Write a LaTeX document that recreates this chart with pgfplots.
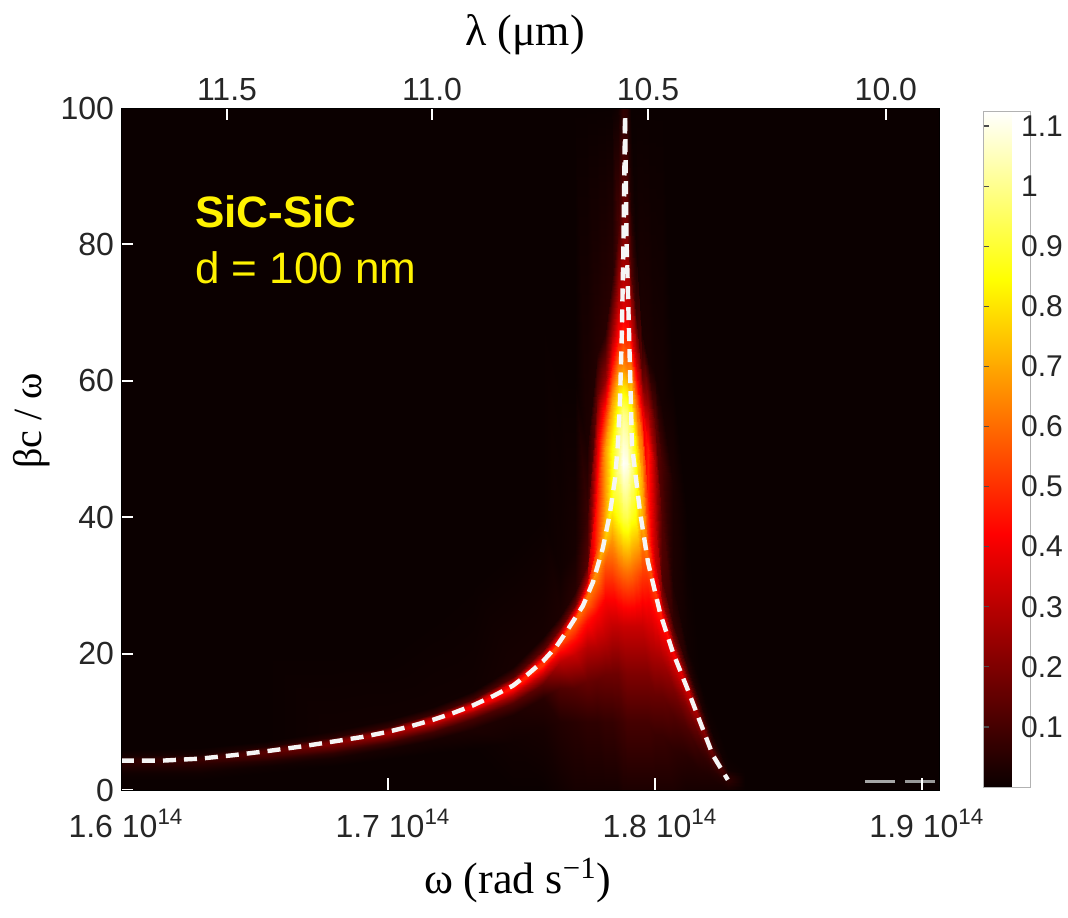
\documentclass[border=0pt]{standalone}
\usepackage{fontspec}
\setmainfont{Liberation Sans}
\newfontfamily\timesfont{Liberation Serif}
\usepackage{pgfplots}
\pgfplotsset{compat=1.18}
\begin{document}
\begin{tikzpicture}
\useasboundingbox (-60.5pt,-63.5pt) rectangle (473.5pt,395pt);
\begin{axis}[
  width=409pt, height=341pt, scale only axis,
  xmin=1.6, xmax=1.9064, ymin=0, ymax=100,
  axis on top,
  axis line style={black},
  colormap={hotm}{rgb255(0cm)=(11,0,0) rgb255(3cm)=(255,0,0) rgb255(6cm)=(255,255,0) rgb255(8cm)=(255,255,255)},
  point meta min=0, point meta max=1.125,
  colorbar,
  colorbar style={
    at={(parent axis.north east)}, anchor=north west, xshift=13.5pt, yshift=-1.5pt,
    width=23.5pt, height=338pt,
    ytick={0.1,0.2,0.3,0.4,0.5,0.6,0.7,0.8,0.9,1,1.1},
    yticklabels={0.1,0.2,0.3,0.4,0.5,0.6,0.7,0.8,0.9,1,1.1},
    ytick pos=left, yticklabel pos=right,
    tick align=inside, major tick length=3pt,
    tick style={gray!60!black, line width=0.6pt},
    axis line style={gray!60},
    yticklabel style={font=\fontsize{15}{17}\selectfont, text=black!85, xshift=-8pt, yshift=0pt},
  },
  xtick={1.6,1.7,1.8,1.9},
  xticklabels={1.6 10\textsuperscript{14},1.7 10\textsuperscript{14},1.8 10\textsuperscript{14},1.9 10\textsuperscript{14}},
  ytick={0,20,40,60,80,100},
  yticklabels={0,20,40,60,80,100},
  xtick pos=bottom, ytick pos=left,
  tick align=inside, major tick length=6pt,
  tick style={white, line width=1pt},
  tick label style={font=\fontsize{16}{18}\selectfont, text=black!85},
  xticklabel style={yshift=-6pt, xshift=2.5pt},
  xlabel={\timesfont ω (rad s\textsuperscript{−1})},
  xlabel style={font=\fontsize{22}{24}\selectfont, at={(axis description cs:0.485,-0.132)}, anchor=center},
  ylabel={\timesfont βc / ω},
  ylabel style={font=\fontsize{20}{22}\selectfont, at={(axis description cs:-0.109,0.541)}, anchor=center},
]
\addplot[surf, shader=interp, mesh/ordering=y varies, point meta=explicit]
  table[x=x, y=y, meta=c] {
x y c
1.6 0 0
1.6 1.5 0
1.6 2.5 0.01
1.6 3.2 0.03
1.6 3.8 0.05
1.6 4.15 0.06
1.6 4.3 0.06
1.6 4.6 0.05
1.6 5.0 0.02
1.6 5.8 0
1.6 20 0
1.6 60 0
1.6 100 0

1.62959 0 0
1.62959 1.5 0
1.62959 2.5 0.01
1.62959 3.3 0.03
1.62959 3.9 0.06
1.62959 4.35 0.08
1.62959 4.6 0.08
1.62959 4.9 0.06
1.62959 5.3 0.02
1.62959 6.1 0
1.62959 20 0
1.62959 60 0
1.62959 100 0

1.65468 0 0
1.65468 2.5 0
1.65468 3.5 0.01
1.65468 4.3 0.04
1.65468 4.9 0.09
1.65468 5.4 0.13
1.65468 5.7 0.13
1.65468 6.0 0.10
1.65468 6.4 0.03
1.65468 7.2 0
1.65468 20 0
1.65468 60 0
1.65468 100 0

1.67940 0 0
1.67940 3.5 0
1.67940 4.7 0.02
1.67940 5.5 0.06
1.67940 6.2 0.14
1.67940 6.8 0.20
1.67940 7.1 0.20
1.67940 7.4 0.15
1.67940 7.8 0.05
1.67940 8.6 0.01
1.67940 20 0
1.67940 60 0
1.67940 100 0

1.69963 0 0
1.69963 4.5 0
1.69963 6.0 0.02
1.69963 6.9 0.08
1.69963 7.6 0.18
1.69963 8.2 0.26
1.69963 8.5 0.26
1.69963 8.8 0.20
1.69963 9.3 0.07
1.69963 10.2 0.01
1.69963 20 0
1.69963 60 0
1.69963 100 0

1.71685 0 0
1.71685 5.5 0
1.71685 7.4 0.02
1.71685 8.5 0.09
1.71685 9.4 0.22
1.71685 10.0 0.33
1.71685 10.3 0.33
1.71685 10.65 0.25
1.71685 11.2 0.08
1.71685 12.2 0.01
1.71685 25 0
1.71685 60 0
1.71685 100 0

1.73184 0 0
1.73184 6 0
1.73184 9.0 0.03
1.73184 10.4 0.10
1.73184 11.4 0.25
1.73184 12.05 0.40
1.73184 12.4 0.40
1.73184 12.8 0.30
1.73184 13.4 0.10
1.73184 14.5 0.01
1.73184 30 0
1.73184 60 0
1.73184 100 0

1.74682 0 0
1.74682 7 0.01
1.74682 11.0 0.03
1.74682 12.8 0.12
1.74682 14.0 0.28
1.74682 14.9 0.46
1.74682 15.3 0.46
1.74682 15.8 0.35
1.74682 16.6 0.12
1.74682 18 0.02
1.74682 35 0
1.74682 60 0
1.74682 100 0

1.75805 0 0
1.75805 9 0.02
1.75805 13.5 0.05
1.75805 15.5 0.15
1.75805 17.0 0.32
1.75805 18.3 0.50
1.75805 18.9 0.50
1.75805 19.5 0.38
1.75805 20.5 0.14
1.75805 22.5 0.02
1.75805 40 0
1.75805 70 0
1.75805 100 0

1.76442 0 0.01
1.76442 10 0.04
1.76442 15 0.12
1.76442 18.8 0.30
1.76442 20.7 0.46
1.76442 21.5 0.54
1.76442 21.9 0.54
1.76442 22.6 0.40
1.76442 23.8 0.15
1.76442 25.5 0.03
1.76442 32 0.01
1.76442 60 0
1.76442 100 0

1.77004 0 0.02
1.77004 10 0.05
1.77004 15 0.13
1.77004 20 0.33
1.77004 22.5 0.46
1.77004 24.5 0.58
1.77004 25.1 0.58
1.77004 25.9 0.42
1.77004 27.2 0.17
1.77004 29 0.05
1.77004 35 0.02
1.77004 60 0
1.77004 100 0

1.77453 0 0.02
1.77453 10 0.06
1.77453 16 0.16
1.77453 21 0.30
1.77453 25 0.45
1.77453 27.6 0.60
1.77453 28.4 0.62
1.77453 29.4 0.50
1.77453 30.8 0.28
1.77453 33 0.13
1.77453 40 0.08
1.77453 50 0.03
1.77453 100 0

1.77828 0 0.02
1.77828 10 0.06
1.77828 16 0.15
1.77828 21 0.29
1.77828 26 0.42
1.77828 31 0.62
1.77828 32.5 0.68
1.77828 36 0.52
1.77828 44 0.45
1.77828 52 0.33
1.77828 58 0.15
1.77828 64 0.04
1.77828 100 0

1.78127 0 0.02
1.78127 10 0.07
1.78127 17 0.17
1.78127 22 0.30
1.78127 28 0.42
1.78127 33 0.56
1.78127 36.9 0.75
1.78127 42 0.68
1.78127 50 0.68
1.78127 55 0.50
1.78127 60 0.24
1.78127 67 0.05
1.78127 100 0

1.78390 0 0.02
1.78390 10 0.07
1.78390 17 0.17
1.78390 24 0.32
1.78390 31 0.50
1.78390 37 0.68
1.78390 42.5 0.87
1.78390 50 0.85
1.78390 57 0.68
1.78390 62 0.45
1.78390 67 0.25
1.78390 75 0.05
1.78390 100 0

1.78614 0 0.02
1.78614 10 0.08
1.78614 17 0.17
1.78614 24 0.32
1.78614 32 0.57
1.78614 40 0.86
1.78614 47 1.00
1.78614 53 0.95
1.78614 60 0.72
1.78614 66 0.45
1.78614 72 0.28
1.78614 82 0.10
1.78614 100 0.01

1.78801 0 0.03
1.78801 10 0.09
1.78801 17 0.19
1.78801 24 0.33
1.78801 32 0.60
1.78801 40 0.92
1.78801 48 1.12
1.78801 55 1.00
1.78801 62 0.66
1.78801 70 0.38
1.78801 80 0.22
1.78801 90 0.12
1.78801 100 0.06

1.78951 0 0.03
1.78951 10 0.10
1.78951 17 0.20
1.78951 24 0.33
1.78951 32 0.61
1.78951 40 0.93
1.78951 48 1.10
1.78951 55 0.97
1.78951 62 0.62
1.78951 70 0.36
1.78951 80 0.21
1.78951 90 0.10
1.78951 100 0.05

1.79101 0 0.03
1.79101 10 0.10
1.79101 17 0.20
1.79101 24 0.33
1.79101 32 0.60
1.79101 40 0.88
1.79101 47 1.00
1.79101 54 0.92
1.79101 61 0.66
1.79101 67 0.36
1.79101 76 0.12
1.79101 86 0.03
1.79101 100 0

1.79288 0 0.03
1.79288 10 0.10
1.79288 17 0.20
1.79288 24 0.33
1.79288 32 0.57
1.79288 39 0.82
1.79288 45.6 0.88
1.79288 51 0.80
1.79288 57 0.60
1.79288 63 0.32
1.79288 70 0.08
1.79288 80 0.01
1.79288 100 0

1.79513 0 0.03
1.79513 10 0.10
1.79513 17 0.20
1.79513 24 0.33
1.79513 31 0.50
1.79513 36 0.62
1.79513 39 0.72
1.79513 45 0.70
1.79513 51 0.60
1.79513 56 0.38
1.79513 61 0.15
1.79513 67 0.03
1.79513 100 0

1.79738 0 0.03
1.79738 10 0.10
1.79738 17 0.20
1.79738 24 0.35
1.79738 29 0.45
1.79738 31.5 0.52
1.79738 33.4 0.58
1.79738 37 0.52
1.79738 43 0.47
1.79738 50 0.46
1.79738 56 0.25
1.79738 63 0.03
1.79738 100 0

1.80000 0 0.03
1.80000 8 0.08
1.80000 14 0.16
1.80000 20 0.28
1.80000 25 0.40
1.80000 29.1 0.52
1.80000 31 0.42
1.80000 34 0.32
1.80000 40 0.30
1.80000 48 0.27
1.80000 54 0.14
1.80000 61 0.02
1.80000 100 0

1.80262 0 0.03
1.80262 8 0.08
1.80262 14 0.16
1.80262 19 0.27
1.80262 23 0.40
1.80262 25.1 0.47
1.80262 26.5 0.35
1.80262 28 0.22
1.80262 31 0.12
1.80262 40 0.12
1.80262 48 0.10
1.80262 56 0.02
1.80262 100 0

1.80674 0 0.03
1.80674 6 0.06
1.80674 11 0.12
1.80674 15 0.20
1.80674 18 0.32
1.80674 20.2 0.42
1.80674 21.2 0.32
1.80674 22.5 0.18
1.80674 24.5 0.07
1.80674 30 0.03
1.80674 45 0.03
1.80674 60 0
1.80674 100 0

1.81199 0 0.02
1.81199 5 0.05
1.81199 9 0.11
1.81199 12 0.20
1.81199 13.8 0.30
1.81199 15 0.35
1.81199 15.8 0.27
1.81199 16.8 0.15
1.81199 18.3 0.05
1.81199 21 0.01
1.81199 40 0
1.81199 70 0
1.81199 100 0

1.81685 0 0.02
1.81685 3 0.04
1.81685 5.5 0.07
1.81685 7.5 0.12
1.81685 9 0.20
1.81685 10 0.25
1.81685 10.7 0.20
1.81685 11.7 0.10
1.81685 13 0.03
1.81685 16 0
1.81685 40 0
1.81685 70 0
1.81685 100 0

1.82172 0 0.02
1.82172 1.5 0.03
1.82172 2.8 0.05
1.82172 3.8 0.09
1.82172 4.5 0.13
1.82172 5.1 0.15
1.82172 5.8 0.11
1.82172 6.7 0.05
1.82172 8 0.01
1.82172 11 0
1.82172 40 0
1.82172 70 0
1.82172 100 0

1.82734 0 0.02
1.82734 0.5 0.03
1.82734 1.0 0.05
1.82734 1.3 0.06
1.82734 1.5 0.06
1.82734 1.7 0.06
1.82734 2.0 0.05
1.82734 2.5 0.03
1.82734 3 0.01
1.82734 5 0
1.82734 40 0
1.82734 70 0
1.82734 100 0

1.83371 0 0
1.83371 0.5 0
1.83371 1.0 0
1.83371 1.3 0
1.83371 1.5 0
1.83371 1.7 0
1.83371 2.0 0
1.83371 2.5 0
1.83371 3 0
1.83371 5 0
1.83371 40 0
1.83371 70 0
1.83371 100 0

1.9064 0 0
1.9064 0.5 0
1.9064 1.0 0
1.9064 1.3 0
1.9064 1.5 0
1.9064 1.7 0
1.9064 2.0 0
1.9064 2.5 0
1.9064 3 0
1.9064 5 0
1.9064 40 0
1.9064 70 0
1.9064 100 0
};
% small dark square (artefact of the original)
\fill[black!85!red!30!black] (axis cs:1.6082,84.75) rectangle (axis cs:1.6322,94.6);
% left branch
\addplot[white!92!gray, line width=2.2pt, dash pattern=on 6.5pt off 4pt] coordinates {
(1.6000,4.3) (1.6150,4.3) (1.6296,4.6) (1.6420,5.1) (1.6547,5.7) (1.6670,6.35) (1.6794,7.1)
(1.6900,7.75) (1.6996,8.5) (1.7085,9.35) (1.7169,10.3) (1.7245,11.3) (1.7318,12.4)
(1.7395,13.8) (1.7468,15.3) (1.7525,17.0) (1.7581,18.9) (1.7630,21.0) (1.7670,23.3)
(1.7730,27.0) (1.7768,30.5) (1.7805,35.5) (1.7831,40.5) (1.7850,45.5) (1.7861,50.5)
(1.7869,57) (1.7876,67) (1.7882,80) (1.7888,98.5)
};
% right branch
\addplot[white!92!gray, line width=2.2pt, dash pattern=on 6.5pt off 4pt] coordinates {
(1.7888,98.5) (1.7894,80) (1.7903,67) (1.7914,50.5) (1.7944,40.8) (1.7974,33.4)
(1.8019,26) (1.8067,20.2) (1.8120,15) (1.8169,10) (1.8217,5.1) (1.8273,1.5)
};
% faint grey dashes at the lower right
\addplot[gray!70, line width=1.5pt] coordinates {(1.8787,1.2) (1.8899,1.2)};
\addplot[gray!80, line width=1.5pt] coordinates {(1.8937,1.3) (1.9049,1.3)};
\node[anchor=base west, text=yellow, font=\fontsize{22}{24}\selectfont\bfseries] at (axis cs:1.6251,82.55) {SiC-SiC};
\node[anchor=base west, text=yellow, font=\fontsize{22}{24}\selectfont] at (axis cs:1.6251,74.2) {d = 100 nm};
\end{axis}
\begin{axis}[
  width=409pt, height=341pt, scale only axis,
  xmin=1.6, xmax=1.9064, ymin=0, ymax=100,
  axis x line*=top, axis y line=none,
  axis line style={black},
  xtick={1.6397,1.7165,1.7974,1.8865},
  xticklabels={11.5,11.0,10.5,10.0},
  tick align=inside, major tick length=6pt,
  xtick style={white, line width=1pt},
  xticklabel style={font=\fontsize{16}{18}\selectfont, text=black!85},
  xlabel={\timesfont λ (μm)},
  xlabel style={font=\fontsize{22}{24}\selectfont, at={(axis description cs:0.494,1.107)}, anchor=center},
]
\addplot[draw=none] coordinates {(1.6,0) (1.9,100)};
\end{axis}
\end{tikzpicture}
\end{document}
